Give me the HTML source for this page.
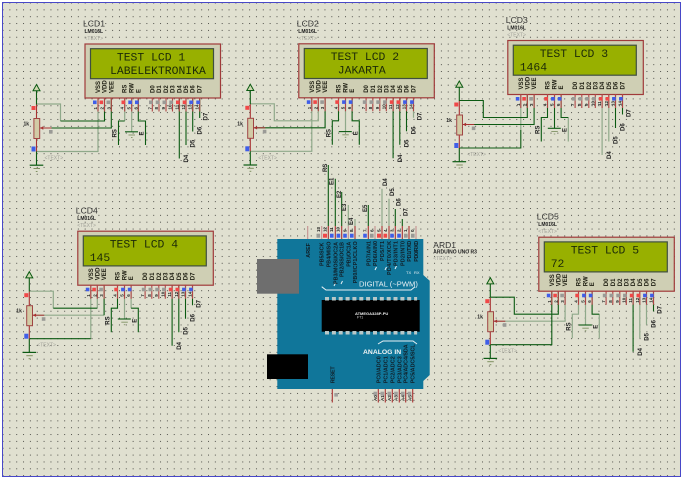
<!DOCTYPE html>
<html><head><meta charset="utf-8"><title>Arduino LCD schematic</title>
<style>
html,body{margin:0;padding:0;background:#fff}
svg{display:block;font-family:"Liberation Sans",sans-serif}
.d{fill:none;stroke:#0b5a12;stroke-width:1.1}
.l{fill:none;stroke:#8fa98a;stroke-width:1.2}
.n{font-size:6px;font-weight:bold;fill:#1c1c10}
.m{font-size:4.5px;font-weight:bold;fill:#222}
.w{font-size:6px;font-weight:bold;fill:#222}
.g{font-size:5px;fill:#a0a098}
.p{font-size:5.4px;fill:#101c24;font-weight:bold}
.s{font-family:"Liberation Mono",monospace;font-size:11.4px;fill:#1c2a08}
.t{font-size:8.6px;fill:#333}
.u{font-size:5px;font-weight:bold;fill:#222}
</style></head><body>
<svg width="683" height="480" viewBox="0 0 683 480" xmlns="http://www.w3.org/2000/svg">
<defs>
<pattern id="dots" x="2.5" y="2.5" width="6.85" height="6.85" patternUnits="userSpaceOnUse"><rect width="1" height="1" fill="#50504a"/></pattern>
<g id="lcd">
<rect x=".5" y=".5" width="135.5" height="54" fill="#cfcfb4" stroke="#a03a3a" stroke-width="1.2"/>
<rect x="6" y="5.2" width="123" height="30" fill="#98b000" stroke="#3f4f40" stroke-width="1.2"/>
<path d="M13.5 54V68M20 54V68M26.8 54V68M40.2 54V68M47.2 54V68M53.8 54V68M67.8 54V68M74.5 54V68M81.5 54V68M88 54V68M94.8 54V68M101.5 54V68M108.2 54V68M115.2 54V68" stroke="#b04444" stroke-width="1.1" fill="none"/>
<g fill="#3f5ee8"><rect x="8.5" y="57" width="3.6" height="3.6"/><rect x="43.8" y="57" width="3.6" height="3.6"/><rect x="50.5" y="57" width="3.6" height="3.6"/><rect x="104.8" y="57" width="3.6" height="3.6"/><rect x="111.8" y="57" width="3.6" height="3.6"/></g>
<g fill="#f04848"><rect x="15" y="57" width="3.6" height="3.6"/><rect x="37" y="57" width="3.6" height="3.6"/><rect x="91.5" y="57" width="3.6" height="3.6"/><rect x="98.2" y="57" width="3.6" height="3.6"/></g>
<g fill="#9a9a96"><rect x="22" y="57" width="3.6" height="3.6"/><rect x="64.5" y="57" width="3.6" height="3.6"/><rect x="71.2" y="57" width="3.6" height="3.6"/><rect x="78" y="57" width="3.6" height="3.6"/><rect x="84.8" y="57" width="3.6" height="3.6"/></g>
<g class="n">
<text transform="translate(15.5 49.5) rotate(-90)">VSS</text><text transform="translate(22 49.5) rotate(-90)">VDD</text><text transform="translate(28.8 49.5) rotate(-90)">VEE</text>
<text transform="translate(42.2 49.5) rotate(-90)">RS</text><text transform="translate(49.2 49.5) rotate(-90)">RW</text><text transform="translate(55.8 49.5) rotate(-90)">E</text>
<text transform="translate(69.8 49.5) rotate(-90)">D0</text><text transform="translate(76.5 49.5) rotate(-90)">D1</text><text transform="translate(83.5 49.5) rotate(-90)">D2</text><text transform="translate(90 49.5) rotate(-90)">D3</text>
<text transform="translate(96.8 49.5) rotate(-90)">D4</text><text transform="translate(103.5 49.5) rotate(-90)">D5</text><text transform="translate(110.2 49.5) rotate(-90)">D6</text><text transform="translate(117.2 49.5) rotate(-90)">D7</text>
</g>
<g class="m">
<text transform="translate(12.5 66) rotate(-90)">1</text><text transform="translate(19 66) rotate(-90)">2</text><text transform="translate(25.8 66) rotate(-90)">3</text>
<text transform="translate(39.2 66) rotate(-90)">4</text><text transform="translate(46.2 66) rotate(-90)">5</text><text transform="translate(52.8 66) rotate(-90)">6</text>
<text transform="translate(66.8 66) rotate(-90)">7</text><text transform="translate(73.5 66) rotate(-90)">8</text><text transform="translate(80.5 66) rotate(-90)">9</text><text transform="translate(87 66) rotate(-90)">10</text>
<text transform="translate(93.8 66) rotate(-90)">11</text><text transform="translate(100.5 66) rotate(-90)">12</text><text transform="translate(107.2 66) rotate(-90)">13</text><text transform="translate(114.2 66) rotate(-90)">14</text>
</g>
<path d="M40.5 88.3H53.5" stroke="#0b5a12" stroke-width="1.1"/><path d="M44 91.5H50.5" stroke="#8a9a70"/><path d="M46.5 94H48" stroke="#8a9a70"/>
<path d="M-48 47V61" stroke="#0b5a12" stroke-width="1.1"/><path d="M-48 61V75M-48 95V108" stroke="#a83232" stroke-width="1.1"/><path d="M-48 108V121.7" stroke="#0b5a12" stroke-width="1.1"/>
<path d="M-51.5 47.2L-48 41L-44.5 47.2Z" fill="#cfd8b0" stroke="#0b5a12"/>
<path d="M-54.8 121.7H-41.2" stroke="#0b5a12" stroke-width="1.2"/><path d="M-51 125H-44.5" stroke="#7f8f60"/><path d="M-48.7 128H-47" stroke="#7f8f60"/>
<rect x="-50.6" y="75" width="5.8" height="20" fill="#d2cba6" stroke="#a04444"/>
<path d="M-44.6 84.5H-33" stroke="#a83232"/><path d="M-44.6 84.5l3.4-1.7v3.4z" fill="#a83232"/>
<rect x="-53" y="62.5" width="4" height="4" fill="#f04848"/><rect x="-53" y="103" width="4" height="5" fill="#3f5ee8"/><rect x="-35.5" y="86.5" width="3.6" height="3.6" fill="#9a9a96"/>
<text class="w" x="-61" y="82" style="font-size:5px">1k</text>
<text class="g" x="-40" y="116">&lt;TEXT&gt;</text>
<text class="w" transform="translate(32 94) rotate(-90)">RS</text>
<text class="w" transform="translate(59 92) rotate(-90)">E</text>
<text class="w" transform="translate(103.5 119) rotate(-90)">D4</text>
<text class="w" transform="translate(110 104) rotate(-90)">D5</text>
<text class="w" transform="translate(117 91) rotate(-90)">D6</text>
<text class="w" transform="translate(123 77) rotate(-90)">D7</text>
</g>
</defs>

<rect width="683" height="480" fill="#fff"/>
<rect x="2.5" y="2.5" width="678" height="474" fill="#e0e0d0" stroke="#4848c8"/>
<rect x="3" y="3" width="677" height="473" fill="url(#dots)"/>

<!-- LCD1 -->
<g transform="translate(84.5 43.5)">
<path class="l" d="M-48 60.5H-24V77.5M-48 108H13.5V54M40.2 54V77.5M47.2 54V88.5"/>
<path class="d" d="M-24 77.5H20V54M-44 84.5H26.8V54M40.2 77.5H34V101.5M53.8 54V77.5H61V101.5M94.8 54V115M101.5 54V101.5M108.2 54V88M115.2 54V74.5"/>
<use href="#lcd"/>
<text class="s" x="32.4" y="16.8">TEST LCD 1</text><text class="s" x="25.6" y="30.3">LABELEKTRONIKA</text>
<text class="t" x="-1.5" y="-17">LCD1</text><text class="u" x="0" y="-10.5">LM016L</text><text class="g" x="0" y="-3.5">&lt;TEXT&gt;</text>
</g>
<!-- LCD2 -->
<g transform="translate(298.3 43.3)">
<path class="l" d="M-48 60.5H-24V77.5H20V54M-48 108H13.5V54M47.2 54V88.5M115.2 54V74.5"/>
<path class="d" d="M-44 84.5H26.8V54M40.2 54V77.5H34V101.5M53.8 54V77.5H61V101.5M94.8 54V115M101.5 54V101.5M108.2 54V88"/>
<use href="#lcd"/>
<text class="s" x="32.4" y="16.8">TEST LCD 2</text><text class="s" x="39.5" y="30.3">JAKARTA</text>
<text class="t" x="-1.5" y="-17">LCD2</text><text class="u" x="0" y="-10.5">LM016L</text><text class="g" x="0" y="-3.5">&lt;TEXT&gt;</text>
</g>
<!-- LCD3 -->
<g transform="translate(507.3 40)">
<path class="l" d="M61 77.5V101.5M94.8 54V115M101.5 54V101.5M13.5 54V90"/>
<path class="d" d="M-48 60.5H-24V77.5H20V54M-48 108H13.5V90M-44 84.5H26.8V54M40.2 54V77.5H34V101.5M47.2 54V88.5M53.8 54V77.5H61M108.2 54V88M115.2 54V74.5"/>
<use href="#lcd"/>
<text class="s" x="32.4" y="16.8">TEST LCD 3</text><text class="s" x="12.4" y="30.3">1464</text>
<text class="t" x="-1.5" y="-17">LCD3</text><text class="u" x="0" y="-10.5">LM016L</text><text class="g" x="0" y="-3.5">&lt;TEXT&gt;</text>
</g>
<!-- LCD4 -->
<g transform="translate(77.3 230.7)">
<path class="l" d="M-48 60.5H-24V77.5M20 77.5V54M13.5 108V54M-44 84.5H26.8M47.2 54V88.5M53.8 54V77.5"/>
<path class="d" d="M-24 77.5H20M-48 108H13.5M26.8 84.5V54M40.2 54V77.5H34V101.5M53.8 77.5H61V101.5M94.8 54V115M101.5 54V101.5M108.2 54V88M115.2 54V74.5"/>
<use href="#lcd"/>
<text class="s" x="32.4" y="16.8">TEST LCD 4</text><text class="s" x="12.4" y="30.3">145</text>
<text class="t" x="-1.5" y="-17">LCD4</text><text class="u" x="0" y="-10.5">LM016L</text><text class="g" x="0" y="-3.5">&lt;TEXT&gt;</text>
</g>
<!-- LCD5 -->
<g transform="translate(538.3 236.7)">
<path class="l" d="M-44 84.5H26.8V54M40.2 54V77.5H34V101.5M47.2 54V88.5M61 77.5V101.5M101.5 54V101.5M108.2 54V88"/>
<path class="d" d="M-48 60.5H-24V77.5H20V54M-48 108H13.5V54M53.8 54V77.5H61M94.8 54V115M115.2 54V74.5"/>
<use href="#lcd"/>
<text class="s" x="32.4" y="16.8">TEST LCD 5</text><text class="s" x="12.4" y="30.3">72</text>
<text class="t" x="-1.5" y="-17">LCD5</text><text class="u" x="0" y="-10.5">LM016L</text><text class="g" x="0" y="-3.5">&lt;TEXT&gt;</text>
</g>

<!-- Arduino wires -->
<path class="d" d="M328.3 226V165M335.3 226V178.7M341.7 226V192M368.3 226V205M395.3 226V209M402.3 226V219"/>
<path class="l" d="M348.3 226V205M355 226V219M382 226V188.7M389 226V198.7"/>
<path d="M307.7 226V239M321.7 226V239M348.3 226V239M375 226V239M416 226V239" stroke="#c49090" stroke-width="1.1"/>
<path d="M328.3 226V239M335.3 226V239M341.7 226V239M355 226V239M368.3 226V239M382 226V239M389 226V239M395.3 226V239M402.3 226V239M409 226V239" stroke="#a83232" stroke-width="1.1"/>
<g fill="#3f5ee8"><rect x="330" y="233.7" width="3.6" height="4"/><rect x="336.6" y="233.7" width="3.6" height="4"/><rect x="343.2" y="233.7" width="3.6" height="4"/><rect x="350" y="233.7" width="3.6" height="4"/><rect x="363.2" y="233.7" width="3.6" height="4"/><rect x="390.2" y="233.7" width="3.6" height="4"/><rect x="397.2" y="233.7" width="3.6" height="4"/></g>
<g fill="#f04848"><rect x="323" y="233.7" width="4" height="4"/><rect x="377" y="233.7" width="4" height="4"/><rect x="383.5" y="233.7" width="3.6" height="4"/></g>
<g fill="#9a9a96"><rect x="316.5" y="233.7" width="3.6" height="4"/><rect x="370" y="233.7" width="3.6" height="4"/><rect x="404" y="233.7" width="3.6" height="4"/><rect x="411" y="233.7" width="3.6" height="4"/></g>
<g class="m">
<text transform="translate(320 232) rotate(-90)">13</text><text transform="translate(326.5 232) rotate(-90)">12</text><text transform="translate(333 232) rotate(-90)">11</text><text transform="translate(339.5 232) rotate(-90)">10</text><text transform="translate(346.5 232) rotate(-90)">9</text><text transform="translate(353 232) rotate(-90)">8</text>
<text transform="translate(366.5 232) rotate(-90)">7</text><text transform="translate(373.5 232) rotate(-90)">6</text><text transform="translate(380.5 232) rotate(-90)">5</text><text transform="translate(387 232) rotate(-90)">4</text><text transform="translate(393.5 232) rotate(-90)">3</text><text transform="translate(400.5 232) rotate(-90)">2</text><text transform="translate(407 232) rotate(-90)">1</text><text transform="translate(414 232) rotate(-90)">0</text>
</g>
<g class="w">
<text transform="translate(327 172) rotate(-90)">RS</text><text transform="translate(333.5 185) rotate(-90)">E1</text><text transform="translate(341 198) rotate(-90)">E2</text><text transform="translate(346 211) rotate(-90)">E3</text><text transform="translate(353 225) rotate(-90)">E4</text>
<text transform="translate(367 212) rotate(-90)">E5</text><text transform="translate(387 186) rotate(-90)">D4</text><text transform="translate(394 196) rotate(-90)">D5</text><text transform="translate(400.5 206) rotate(-90)">D6</text><text transform="translate(407.5 216) rotate(-90)">D7</text>
</g>

<!-- Arduino board -->
<path d="M277.3 239H423.3V275L429.7 280.7V375L423.3 381V389H277.3Z" fill="#10769a"/>
<rect x="257" y="259" width="42" height="34.7" fill="#6e6e6e"/>
<rect x="267" y="354.3" width="41" height="24.7" fill="#000"/>
<rect x="321.7" y="300" width="98" height="31.7" fill="#000"/>
<g fill="#b8c8c8">
<rect x="325" y="297" width="4" height="3.5"/><rect x="331.9" y="297" width="4" height="3.5"/><rect x="338.7" y="297" width="4" height="3.5"/><rect x="345.6" y="297" width="4" height="3.5"/><rect x="352.4" y="297" width="4" height="3.5"/><rect x="359.3" y="297" width="4" height="3.5"/><rect x="366.1" y="297" width="4" height="3.5"/><rect x="373" y="297" width="4" height="3.5"/><rect x="379.8" y="297" width="4" height="3.5"/><rect x="386.7" y="297" width="4" height="3.5"/><rect x="393.5" y="297" width="4" height="3.5"/><rect x="400.4" y="297" width="4" height="3.5"/><rect x="407.2" y="297" width="4" height="3.5"/><rect x="414.1" y="297" width="3" height="3.5"/>
<rect x="325" y="331" width="4" height="3.5"/><rect x="331.9" y="331" width="4" height="3.5"/><rect x="338.7" y="331" width="4" height="3.5"/><rect x="345.6" y="331" width="4" height="3.5"/><rect x="352.4" y="331" width="4" height="3.5"/><rect x="359.3" y="331" width="4" height="3.5"/><rect x="366.1" y="331" width="4" height="3.5"/><rect x="373" y="331" width="4" height="3.5"/><rect x="379.8" y="331" width="4" height="3.5"/><rect x="386.7" y="331" width="4" height="3.5"/><rect x="393.5" y="331" width="4" height="3.5"/><rect x="400.4" y="331" width="4" height="3.5"/><rect x="407.2" y="331" width="4" height="3.5"/><rect x="414.1" y="331" width="3" height="3.5"/>
</g>
<text x="355" y="315" font-size="4" fill="#eee" font-weight="bold">ATMEGA328P-PU</text>
<text x="357" y="318.5" font-size="3.5" fill="#ddd">FT1</text>
<text x="359" y="286.5" font-size="7.6" fill="#e8f0f4">DIGITAL (~PWM)</text>
<path d="M321.7 286.7L326 290H411L415 286.7" fill="none" stroke="#e8f0f4"/>
<text x="363" y="354" font-size="6.8" fill="#f0f4f4" font-weight="bold">ANALOG IN</text>
<path d="M378 344L383 341H413L417 344" fill="none" stroke="#e8f0f4"/>
<text x="406" y="274" font-size="4" fill="#e8f0f4">TX</text><text x="414" y="274" font-size="4" fill="#e8f0f4">RX</text>
<path d="M334 286l1.5-3M341 284l1.5-3M375 270l1.5-3M385 270l1.5-3M395 269l1.5-3" stroke="#e8f0f4" fill="none"/>

<g class="p">
<text transform="translate(310 257.7) rotate(-90)">AREF</text>
<text transform="translate(323.7 266) rotate(-90)">PB5/SCK</text>
<text transform="translate(330.3 267.3) rotate(-90)">PB4/MISO</text>
<text transform="translate(337.3 284) rotate(-90)" textLength="42">PB3/MOSI/OC2A</text>
<text transform="translate(343.7 277) rotate(-90)" textLength="35">PB2/SS/OC1B</text>
<text transform="translate(350.3 266.7) rotate(-90)" textLength="25">PB1/OC1A</text>
<text transform="translate(357 283.3) rotate(-90)" textLength="42">PB0/ICP1/CLKO</text>
<text transform="translate(370.3 266) rotate(-90)" textLength="25">PD7/AIN1</text>
<text transform="translate(377 266) rotate(-90)" textLength="25">PD6/AIN0</text>
<text transform="translate(384 261) rotate(-90)" textLength="20">PD5/T1</text>
<text transform="translate(391 275) rotate(-90)" textLength="34">PD4/T0/XCK</text>
<text transform="translate(397.3 266) rotate(-90)" textLength="25">PD3/INT1</text>
<text transform="translate(404.3 266) rotate(-90)" textLength="25">PD2/INT0</text>
<text transform="translate(411 261.7) rotate(-90)" textLength="21">PD1/TXD</text>
<text transform="translate(418 261.7) rotate(-90)" textLength="21">PD0/RXD</text>
<text transform="translate(380.3 383.3) rotate(-90)" textLength="27">PC0/ADC0</text>
<text transform="translate(387.3 383.3) rotate(-90)" textLength="27">PC1/ADC1</text>
<text transform="translate(394.3 383.3) rotate(-90)" textLength="27">PC2/ADC2</text>
<text transform="translate(401.3 383.3) rotate(-90)" textLength="27">PC3/ADC3</text>
<text transform="translate(407.7 383.3) rotate(-90)" textLength="39">PC4/ADC4/SDA</text>
<text transform="translate(414.7 383.3) rotate(-90)" textLength="39">PC5/ADC5/SCL</text>
<text transform="translate(334.3 383.3) rotate(-90)" textLength="17">RESET</text>
</g>

<path d="M332.3 389V402.5M378.3 389V402.5M385.3 389V402.5M392.3 389V402.5M399.3 389V402.5M405.7 389V402.5M412.7 389V402.5" stroke="#a83232" stroke-width="1.1"/>
<g fill="#a0a09c"><rect x="334.3" y="393" width="3.6" height="3.6"/><rect x="373.5" y="391.7" width="3.6" height="4"/><rect x="380.5" y="391.7" width="3.6" height="4"/><rect x="387.5" y="391.7" width="3.6" height="4"/><rect x="394.2" y="391.7" width="3.6" height="4"/><rect x="401" y="391.7" width="3.6" height="4"/><rect x="407.7" y="391.7" width="3.6" height="4"/></g>
<g class="m">
<text transform="translate(377 401) rotate(-90)">A0</text><text transform="translate(384 401) rotate(-90)">A1</text><text transform="translate(391 401) rotate(-90)">A2</text><text transform="translate(397.7 401) rotate(-90)">A3</text><text transform="translate(404.5 401) rotate(-90)">A4</text><text transform="translate(411.3 401) rotate(-90)">A5</text>
</g>

<text x="433.3" y="248" font-size="8.5" fill="#333">ARD1</text>
<text x="433.3" y="253.7" font-size="5" font-weight="bold" fill="#222">ARDUINO UNO R3</text>
<text x="433.3" y="260" class="g">&lt;TEXT&gt;</text>
</svg>
</body></html>
